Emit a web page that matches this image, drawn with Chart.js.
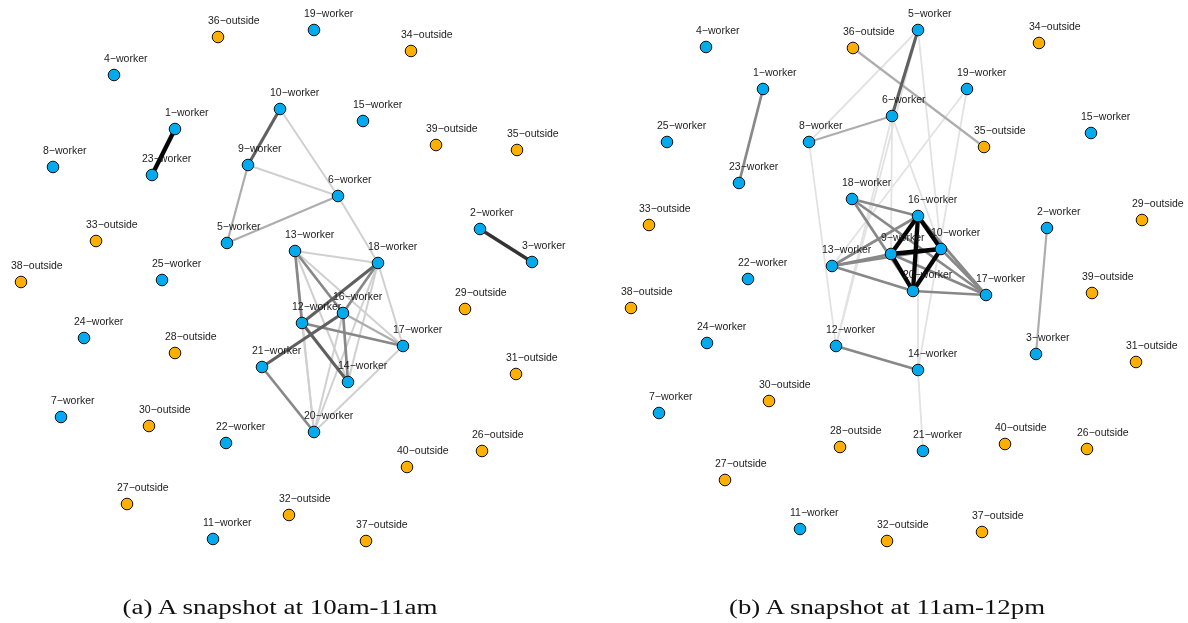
<!DOCTYPE html>
<html>
<head>
<meta charset="utf-8">
<script src="https://cdn.jsdelivr.net/npm/chart.js@4.4.0/dist/chart.umd.min.js"></script>
<style>
  html, body { margin: 0; padding: 0; background: #fff; }
  #wrap { position: relative; width: 1188px; height: 623px; overflow: hidden; }
  #wrap canvas { position: absolute; top: 0; }
  .cap { position: absolute; top: 0; left: 0; font-family: "Liberation Serif", "DejaVu Serif", serif;
         font-size: 20px; color: #111; white-space: nowrap; line-height: 1; }
</style>
</head>
<body>
<div id="wrap">
  <canvas id="panelA" width="594" height="623" style="left:0"></canvas>
  <canvas id="panelB" width="594" height="623" style="left:594px"></canvas>
  <div class="cap" id="capA">(a) A snapshot at 10am-11am</div>
  <div class="cap" id="capB">(b) A snapshot at 11am-12pm</div>
</div>
<script>
// ---- People in the contact network ----
const nodeIds = [1, 2, 3, 4, 5, 6, 7, 8, 9, 10, 11, 12, 13, 14, 15, 16, 17, 18, 19, 20,
                 21, 22, 23, 24, 25, 26, 27, 28, 29, 30, 31, 32, 33, 34, 35, 36, 37, 38, 39, 40];
const lastWorkerId = 25;   // ids above this are outside visitors

// ---- Layout positions (x, y layout units), one entry per node id ----
const layoutA_x = [175, 480, 532, 114, 227, 338, 61, 53, 248, 280, 213, 302, 295, 348, 363, 343, 403, 378, 314, 314,
                   262, 226, 152, 84, 162, 482, 127, 175, 465, 149, 516, 289, 96, 411, 517, 218, 366, 21, 436, 407];
const layoutA_y = [129, 229, 262, 75, 243, 196, 417, 167, 165, 109, 539, 323, 251, 382, 121, 313, 346, 263, 30, 432,
                   367, 443, 175, 338, 280, 451, 504, 353, 309, 426, 374, 515, 241, 51, 150, 37, 541, 282, 145, 467];
const layoutB_x = [169, 453, 442, 112, 324, 298, 65, 215, 297, 347, 206, 242, 238, 324, 497, 324, 392, 258, 373, 319,
                   329, 154, 145, 113, 73, 493, 131, 246, 548, 175, 542, 293, 55, 445, 390, 259, 388, 37, 498, 411];
const layoutB_y = [89, 228, 354, 47, 30, 116, 413, 142, 254, 249, 529, 346, 266, 370, 133, 216, 295, 199, 89, 291,
                   451, 279, 183, 343, 142, 449, 480, 447, 220, 401, 362, 541, 225, 43, 147, 48, 532, 308, 293, 444];

// ---- Contacts: [from id, to id, contact strength level] ----
const edgesA = [
  [1, 23, 6], [2, 3, 5], [9, 10, 4], [10, 6, 1], [9, 6, 1], [9, 5, 2], [5, 6, 2], [6, 18, 1],
  [13, 18, 1], [13, 12, 3], [13, 16, 3], [13, 17, 1], [13, 14, 1], [13, 20, 1],
  [12, 18, 4], [12, 17, 3], [12, 14, 4], [12, 20, 1],
  [16, 21, 4], [16, 14, 3], [16, 17, 2], [16, 18, 3], [16, 20, 1],
  [18, 17, 1], [18, 14, 1], [18, 20, 1], [21, 20, 3], [17, 20, 1]
];
const edgesB = [
  [1, 23, 3], [2, 3, 2], [36, 35, 2], [5, 6, 4], [6, 8, 2],
  [16, 9, 6], [16, 10, 6], [16, 20, 6], [9, 10, 6], [9, 20, 6], [10, 20, 6],
  [18, 16, 3], [18, 20, 3], [18, 17, 3], [13, 9, 3], [13, 16, 3], [13, 10, 3], [13, 20, 3],
  [17, 16, 3], [17, 10, 3], [17, 9, 3], [17, 20, 3], [12, 14, 3],
  [5, 8, 0], [5, 12, 0], [5, 10, 0], [8, 12, 0], [6, 12, 0], [6, 9, 0], [6, 10, 0],
  [19, 13, 0], [19, 14, 0], [14, 21, 0], [14, 16, 0]
];

// ---- Styling ----
const edgeColors = ['#e2e2e2', '#d0d0d0', '#adadad', '#888888', '#606060', '#333333', '#050505'];
const edgeWidths = [1.8, 2, 2.2, 2.7, 3.1, 3.4, 4.3];
const workerColor = '#00AAEE';
const outsideColor = '#FFAF00';

function roleOf(id) { return id <= lastWorkerId ? 'worker' : 'outside'; }
function labelOf(id) { return id + '\u2212' + roleOf(id); }

// Draws node names just above and to the right of each vertex.
const nodeLabelPlugin = {
  id: 'nodeLabels',
  afterDatasetsDraw(chart) {
    const meta = chart.getDatasetMeta(0);
    const ctx = chart.ctx;
    ctx.save();
    ctx.font = '10.5px "Liberation Sans", Arial, sans-serif';
    ctx.fillStyle = '#1c1c1c';
    ctx.textAlign = 'left';
    ctx.textBaseline = 'middle';
    meta.data.forEach((pt, i) => {
      ctx.fillText(labelOf(nodeIds[i]), pt.x - 10, pt.y - 16);
    });
    ctx.restore();
  }
};

function buildNetwork(canvasId, xs, ys, edges) {
  const pos = {};
  nodeIds.forEach((id, i) => { pos[id] = { x: xs[i], y: ys[i] }; });

  const datasets = [{
    type: 'scatter',
    data: nodeIds.map(id => pos[id]),
    pointRadius: 5.8,
    pointBorderWidth: 1,
    pointBorderColor: '#111',
    pointBackgroundColor: nodeIds.map(id => roleOf(id) === 'worker' ? workerColor : outsideColor),
    order: 0
  }];

  // lighter contacts first so stronger ones sit on top
  const sorted = edges.slice().sort((a, b) => a[2] - b[2]);
  sorted.forEach((e, k) => {
    datasets.push({
      type: 'line',
      data: [pos[e[0]], pos[e[1]]],
      borderColor: edgeColors[e[2]],
      borderWidth: edgeWidths[e[2]],
      pointRadius: 0,
      fill: false,
      tension: 0,
      borderCapStyle: 'butt',
      order: 1 + (sorted.length - k)
    });
  });

  return new Chart(document.getElementById(canvasId), {
    data: { datasets },
    options: {
      responsive: false,
      animation: false,
      events: [],
      devicePixelRatio: 1,
      layout: { padding: 0, autoPadding: false },
      plugins: { legend: { display: false }, tooltip: { enabled: false } },
      scales: {
        x: { type: 'linear', min: 0, max: 594, display: false },
        y: { type: 'linear', min: 0, max: 623, reverse: true, display: false }
      }
    },
    plugins: [nodeLabelPlugin]
  });
}

buildNetwork('panelA', layoutA_x, layoutA_y, edgesA);
buildNetwork('panelB', layoutB_x, layoutB_y, edgesB);

// Place the sub-captions centred under each panel.
function placeCaption(id, centerX, centerY, targetWidth) {
  const el = document.getElementById(id);
  const r = el.getBoundingClientRect();
  const sx = targetWidth / r.width;
  el.style.transformOrigin = '0 0';
  el.style.transform = 'translate(' + (centerX - targetWidth / 2) + 'px,' + (centerY - r.height / 2) + 'px) scaleX(' + sx + ')';
}
placeCaption('capA', 280, 607, 315);
placeCaption('capB', 887, 607, 316);
</script>
</body>
</html>
